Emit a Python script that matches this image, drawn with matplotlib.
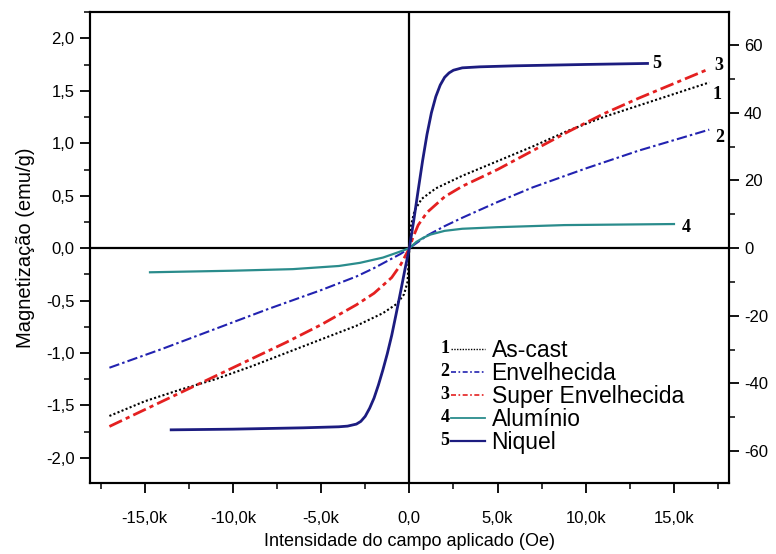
import matplotlib
matplotlib.use("Agg")
import matplotlib.pyplot as plt
from matplotlib.ticker import MultipleLocator, FuncFormatter
from matplotlib.lines import Line2D

plt.rcParams['font.family'] = ['Liberation Sans', 'DejaVu Sans']

# Field values in kOe, magnetization in emu/g
ascast_x = [-17, -15, -13, -12, -11, -9, -7, -5, -3, -1.5, -0.7, -0.3, -0.1, 0,
            0.1, 0.3, 0.7, 1.5, 3, 5, 7, 9, 11, 13, 15, 17]
ascast_y = [-1.60, -1.46, -1.35, -1.30, -1.25, -1.13, -1.00, -0.87, -0.74, -0.62, -0.53, -0.44, -0.32, 0,
            0.22, 0.36, 0.47, 0.57, 0.69, 0.83, 0.97, 1.12, 1.25, 1.36, 1.47, 1.58]

envelh_x = [-17, -14, -11, -8, -5, -3, -2, -1, -0.5, 0, 0.5, 1, 2, 3, 5, 7, 10, 13, 17]
envelh_y = [-1.14, -0.96, -0.77, -0.58, -0.40, -0.27, -0.19, -0.10, -0.055, 0,
            0.06, 0.12, 0.21, 0.29, 0.44, 0.58, 0.76, 0.93, 1.13]

super_x = [-17, -15, -13, -12, -11, -9, -7, -5, -3, -2, -1, -0.5, 0,
           0.2, 0.5, 1, 2, 3, 5, 7, 9, 11, 13, 15, 17]
super_y = [-1.70, -1.54, -1.38, -1.30, -1.22, -1.06, -0.90, -0.73, -0.54, -0.43, -0.28, -0.16, 0,
           0.10, 0.22, 0.34, 0.49, 0.59, 0.75, 0.93, 1.11, 1.28, 1.43, 1.57, 1.71]

alum_x = [-14.7, -10, -6.6, -4, -2.8, -1.5, -0.9, -0.4, 0, 0.4, 0.8, 1.2, 2, 3, 5, 8.8, 15]
alum_y = [-0.23, -0.215, -0.20, -0.17, -0.14, -0.09, -0.055, -0.025, 0,
          0.06, 0.10, 0.13, 0.165, 0.185, 0.20, 0.22, 0.23]

# Nickel reference, emu/g on the right-hand scale
niq_x = [-13.5, -10, -6, -4, -3.5, -3, -2.75, -2.5, -2.25, -2, -1.75, -1.5, -1.25, -1, -0.75, -0.5, -0.25, 0,
         0.25, 0.5, 0.75, 1.0, 1.25, 1.5, 1.75, 2.0, 2.25, 2.5, 3.0, 4, 6, 10, 13.5]
niq_y = [-53.7, -53.5, -53.1, -52.8, -52.6, -52.0, -51.2, -49.7, -47.3, -44.3, -40.4, -36.0, -31.2, -25.8, -19.5, -13.0, -6.3, 0,
         8.2, 17.1, 25.8, 33.6, 40.0, 44.8, 48.2, 50.5, 51.8, 52.6, 53.3, 53.6, 53.9, 54.3, 54.6]

series_names = ["As-cast", "Envelhecida", "Super Envelhecida", "Alumínio", "Niquel"]
series_tags = ["1", "2", "3", "4", "5"]

left_lim = (-2.24, 2.25)
right_ratio = 31.0

fig = plt.figure(figsize=(7.76, 5.54), dpi=100)
ax = fig.add_axes([0.116, 0.128, 0.823, 0.850])
ax2 = ax.twinx()

k = lambda xs: [v * 1000 for v in xs]

l1, = ax.plot(k(ascast_x), ascast_y, color='black', lw=1.5, ls=(0, (1, 1.1)))
l2, = ax.plot(k(envelh_x), envelh_y, color='#2222b0', lw=1.5, ls=(0, (5, 1.5, 1.2, 1.5)))
l3, = ax.plot(k(super_x), super_y, color='#e42020', lw=2.0, ls=(0, (5, 1.5, 1.5, 1.5)))
l4, = ax.plot(k(alum_x), alum_y, color='#2a8c8c', lw=1.6)
l5, = ax2.plot(k(niq_x), niq_y, color='#1c1c80', lw=2.0)

ax.axhline(0, color='black', lw=1.6, zorder=1)
ax.axvline(0, color='black', lw=1.6, zorder=1)

ax.set_xlim(-18100, 18100)
ax.set_ylim(*left_lim)
ax2.set_ylim(left_lim[0] * right_ratio, left_lim[1] * right_ratio)

ax.xaxis.set_major_locator(MultipleLocator(5000))
ax.xaxis.set_minor_locator(MultipleLocator(2500))
ax.yaxis.set_major_locator(MultipleLocator(0.5))
ax.yaxis.set_minor_locator(MultipleLocator(0.25))
ax2.yaxis.set_major_locator(MultipleLocator(20))
ax2.yaxis.set_minor_locator(MultipleLocator(10))

def fmt_x(v, pos):
    if abs(v) < 1e-9:
        return "0,0"
    return ("%.1fk" % (v / 1000)).replace('.', ',')

def fmt_y(v, pos):
    if abs(v) < 1e-9:
        v = 0.0
    return ("%.1f" % v).replace('.', ',')

def fmt_r(v, pos):
    return "%d" % round(v)

ax.xaxis.set_major_formatter(FuncFormatter(fmt_x))
ax.yaxis.set_major_formatter(FuncFormatter(fmt_y))
ax2.yaxis.set_major_formatter(FuncFormatter(fmt_r))

for a in (ax, ax2):
    for s in a.spines.values():
        s.set_linewidth(1.5)
ax.tick_params(axis='both', which='major', direction='out', length=7, width=1.3,
               labelsize=12, pad=4, top=False, right=False)
ax.tick_params(axis='x', which='major', pad=13)
ax.tick_params(axis='both', which='minor', direction='out', length=4, width=1.1,
               top=False, right=False)
ax2.tick_params(axis='y', which='major', direction='out', length=7, width=1.3, labelsize=12, pad=4)
ax2.tick_params(axis='y', which='minor', direction='out', length=4, width=1.1)

ax.set_xlabel("Intensidade do campo aplicado (Oe)", fontsize=13, labelpad=5)
ax.set_ylabel("Magnetização (emu/g)", fontsize=14.5, labelpad=8)

# Curve tags at the right-hand ends
tag_font = dict(family=['Liberation Serif', 'DejaVu Serif'], fontweight='bold', fontsize=13)
ax.annotate(series_tags[0], (ascast_x[-1] * 1000, ascast_y[-1]), xytext=(3, -12),
            textcoords='offset pixels', ha='left', va='center', **tag_font)
ax.annotate(series_tags[1], (envelh_x[-1] * 1000, envelh_y[-1]), xytext=(6, -8),
            textcoords='offset pixels', ha='left', va='center', **tag_font)
ax.annotate(series_tags[2], (super_x[-1] * 1000, super_y[-1]), xytext=(5, 3),
            textcoords='offset pixels', ha='left', va='center', **tag_font)
ax.annotate(series_tags[3], (alum_x[-1] * 1000, alum_y[-1]), xytext=(8, -3),
            textcoords='offset pixels', ha='left', va='center', **tag_font)
ax2.annotate(series_tags[4], (niq_x[-1] * 1000, niq_y[-1]), xytext=(5, 0),
             textcoords='offset pixels', ha='left', va='center', **tag_font)

handles = [
    Line2D([], [], color='black', lw=1.0, ls=(0, (1, 1))),
    Line2D([], [], color='#2222b0', lw=1.2, ls=(0, (3, 1.5, 1, 1.5))),
    Line2D([], [], color='#e42020', lw=1.2, ls=(0, (3, 1.5, 1, 1.5))),
    Line2D([], [], color='#2a8c8c', lw=1.3),
    Line2D([], [], color='#1c1c80', lw=1.6),
]
leg = ax2.legend(handles, series_names, loc='upper left', bbox_to_anchor=(0.566, 0.307),
                 frameon=False, fontsize=16.5, handlelength=1.45, handletextpad=0.3,
                 labelspacing=0.0, borderpad=0, borderaxespad=0)

fig.canvas.draw()
for h, tag in zip(leg.legend_handles, series_tags):
    bb = h.get_window_extent()
    fig.text(bb.x0 - 2, (bb.y0 + bb.y1) / 2, tag, transform=None,
             ha='right', va='center', **tag_font)

fig.savefig("out.png", dpi=100)
